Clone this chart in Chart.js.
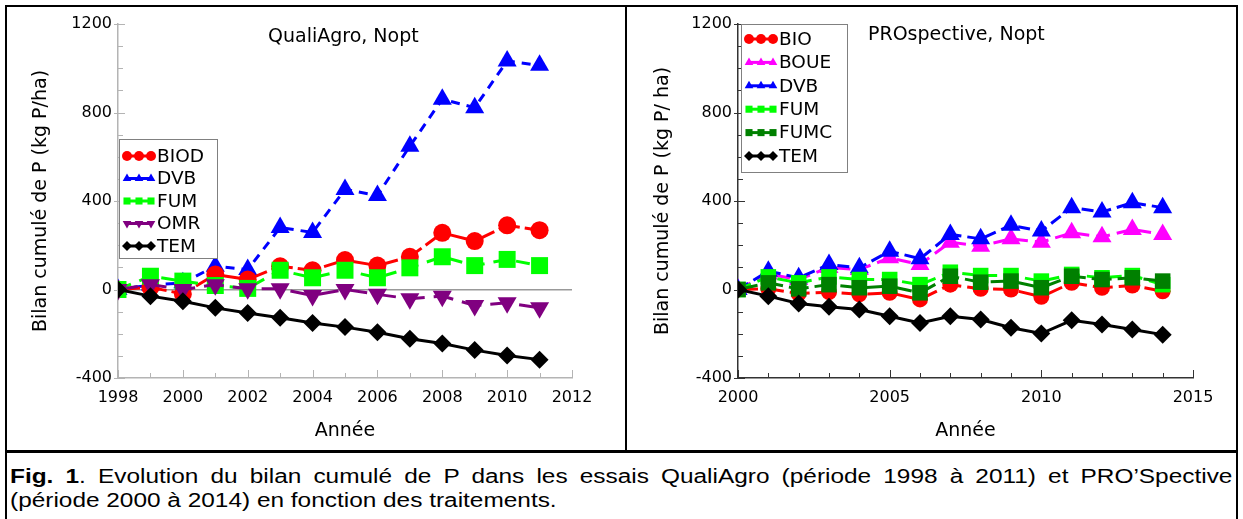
<!DOCTYPE html>
<html>
<head>
<meta charset="utf-8">
<script src="https://cdn.jsdelivr.net/npm/chart.js@4.4.0/dist/chart.umd.min.js"></script>
<style>
  body { margin: 0; width: 1243px; height: 519px; background: #fff; position: relative; overflow: hidden; }
  canvas { position: absolute; top: 0; }
  #qa { left: 0; }
  #pro { left: 627px; }
  .line { position: absolute; background: #000; z-index: 5; }
  .cap {
    position: absolute; left: 10px; width: 1002px;
    font-family: "Liberation Sans", Arial, sans-serif; font-size: 20px; line-height: 24px;
    color: #000; transform: scaleX(1.22); transform-origin: 0 0;
  }
  #cap1 { top: 464px; text-align: justify; text-align-last: justify; }
  #cap2 { top: 488px; text-align: left; }
</style>
</head>
<body>
<canvas id="qa" width="620" height="450"></canvas>
<canvas id="pro" width="610" height="450"></canvas>
<div class="line" style="left:5px;top:5px;width:1233px;height:2px"></div>
<div class="line" style="left:5px;top:5px;width:2px;height:514px"></div>
<div class="line" style="left:1236px;top:5px;width:2px;height:514px"></div>
<div class="line" style="left:625px;top:5px;width:2px;height:447px"></div>
<div class="line" style="left:5px;top:450px;width:1233px;height:3px"></div>
<div class="cap" id="cap1"><b>Fig. 1</b>. Evolution du bilan cumulé de P dans les essais QualiAgro (période 1998 à 2011) et PRO’Spective</div>
<div class="cap" id="cap2">(période 2000 à 2014) en fonction des traitements.</div>
<script>
// QualiAgro, 1998-2011
const yearsQA = [1998, 1999, 2000, 2001, 2002, 2003, 2004, 2005, 2006, 2007, 2008, 2009, 2010, 2011];
const biod  = [0, 10, -20, 68, 45, 105, 87, 133, 108, 148, 256, 219, 290, 268];
const dvbQA = [0, 20, 30, 105, 90, 280, 258, 452, 425, 648, 860, 822, 1033, 1013];
const fumQA = [0, 60, 38, 18, 5, 87, 53, 87, 53, 98, 148, 108, 136, 108];
const omr   = [0, 22, 0, 22, 3, 3, -27, 0, -22, -42, -30, -72, -60, -83];
const temQA = [0, -30, -53, -83, -106, -128, -151, -170, -193, -223, -244, -274, -298, -317];

// PRO'Spective, 2000-2014
const yearsPRO = [2000, 2001, 2002, 2003, 2004, 2005, 2006, 2007, 2008, 2009, 2010, 2011, 2012, 2013, 2014];
const bio    = [0, 3, -18, -12, -22, -15, -45, 22, 3, 0, -33, 30, 8, 18, -8];
const boue   = [0, 70, 45, 100, 90, 143, 113, 214, 196, 229, 214, 256, 238, 271, 249];
const dvbPRO = [0, 83, 53, 113, 98, 173, 139, 249, 229, 290, 264, 370, 350, 392, 370];
const fumPRO = [0, 57, 30, 57, 45, 45, 22, 78, 63, 63, 38, 68, 53, 63, 22];
const fumc   = [0, 30, 3, 22, 8, 15, -15, 60, 33, 38, 8, 60, 45, 53, 38];
const temPRO = [0, -30, -63, -78, -90, -121, -151, -121, -136, -173, -199, -139, -158, -181, -204];

const pts = (xs, ys) => xs.map((x, i) => ({ x: x, y: ys[i] }));

function series(label, xs, ys, color, style, radius, dash, order, rotation) {
  return {
    label: label,
    data: pts(xs, ys),
    borderColor: color,
    backgroundColor: color,
    borderWidth: 3,
    borderDash: dash,
    pointStyle: style,
    pointRadius: radius,
    pointRotation: rotation || 0,
    pointBorderWidth: 0,
    order: order,
    tension: 0
  };
}

// ticks drawn inside the plot, like the original software
const innerTicks = {
  id: 'innerTicks',
  beforeDatasetsDraw(chart, args, o) {
    const ctx = chart.ctx;
    const xs = chart.scales.x, ys = chart.scales.y;
    ctx.save();
    ctx.strokeStyle = o.color;
    ctx.lineWidth = 1;
    ctx.beginPath();
    ys.ticks.forEach(t => {
      const py = Math.round(ys.getPixelForValue(t.value)) + 0.5;
      const major = t.value % o.yMajor === 0;
      ctx.moveTo(ys.right - (major ? 4 : 0), py);
      ctx.lineTo(ys.right + (major ? 7 : 5), py);
    });
    xs.ticks.forEach(t => {
      const px = Math.round(xs.getPixelForValue(t.value)) + 0.5;
      const major = t.value % o.xMajor === 0;
      ctx.moveTo(px, xs.top);
      ctx.lineTo(px, xs.top - (major ? 8 : 5));
    });
    ctx.stroke();
    ctx.restore();
  }
};

const innerText = {
  id: 'innerText',
  afterDraw(chart, args, o) {
    const ctx = chart.ctx;
    ctx.save();
    ctx.font = '19px "DejaVu Sans"';
    ctx.fillStyle = '#000';
    ctx.textBaseline = 'middle';
    ctx.fillText(o.text, o.x, o.y);
    ctx.restore();
  }
};

const innerLegend = {
  id: 'innerLegend',
  afterDraw(chart, args, o) {
    const ctx = chart.ctx;
    ctx.save();
    ctx.fillStyle = '#fff';
    ctx.fillRect(o.x, o.y, o.w, o.h);
    ctx.strokeStyle = o.border;
    ctx.lineWidth = 1;
    ctx.strokeRect(o.x + 0.5, o.y + 0.5, o.w, o.h);
    chart.data.datasets.forEach((ds, i) => {
      const cy = o.y + o.first + i * o.row;
      const x0 = o.x + 8, x1 = x0 + 24;
      ctx.setLineDash([]);
      ctx.strokeStyle = ds.borderColor;
      ctx.fillStyle = ds.backgroundColor;
      ctx.lineWidth = 3;
      ctx.beginPath();
      ctx.moveTo(x0, cy);
      ctx.lineTo(x1, cy);
      ctx.stroke();
      [x0, (x0 + x1) / 2, x1].forEach(px => {
        Chart.helpers.drawPoint(ctx, { pointStyle: ds.pointStyle, radius: 5, rotation: ds.pointRotation, borderWidth: 0 }, px, cy);
      });
      ctx.fillStyle = '#000';
      ctx.font = '18.5px "DejaVu Sans"';
      ctx.textBaseline = 'middle';
      ctx.fillText(ds.label, x1 + 6, cy + 1);
    });
    ctx.restore();
  }
};

function makeOptions(cfg) {
  return {
    responsive: false,
    animation: false,
    layout: { padding: { left: 0, top: 24, right: cfg.padRight, bottom: 0 } },
    plugins: {
      legend: { display: false },
      tooltip: { enabled: false },
      innerTicks: { color: cfg.axisColor, xMajor: cfg.xMajor, yMajor: 400 },
      innerText: cfg.title,
      innerLegend: cfg.legend
    },
    scales: {
      x: {
        type: 'linear',
        min: cfg.xMin, max: cfg.xMax,
        afterFit: s => { s.height = 72; },
        border: { color: cfg.axisColor, width: 1.5 },
        grid: { display: false, drawTicks: false },
        ticks: {
          stepSize: 1, autoSkip: false, maxRotation: 0, padding: 10,
          color: '#000', font: { family: 'DejaVu Sans', size: 16 },
          callback: v => (v % cfg.xMajor === 0 ? String(v) : '')
        },
        title: { display: true, text: 'Année', color: '#000', font: { family: 'DejaVu Sans', size: 19 }, padding: { bottom: 8 } }
      },
      y: {
        min: -400, max: 1200,
        afterFit: s => { s.width = cfg.yWidth; },
        border: { color: cfg.axisColor, width: 1.5 },
        grid: {
          drawTicks: false,
          color: c => (cfg.zeroLine && c.tick && c.tick.value === 0 ? '#999' : 'rgba(0,0,0,0)'),
          lineWidth: 1.5
        },
        ticks: {
          stepSize: 100, autoSkip: false, padding: 6,
          color: '#000', font: { family: 'DejaVu Sans', size: 16 },
          callback: v => (v % 400 === 0 ? String(v) : '')
        },
        title: { display: true, text: cfg.yTitle, color: '#000', font: { family: 'DejaVu Sans', size: 19 }, padding: { top: cfg.yTitlePad } }
      }
    }
  };
}

new Chart(document.getElementById('qa'), {
  type: 'line',
  data: {
    datasets: [
      series('BIOD', yearsQA, biod, '#ff0000', 'circle', 9, [22, 5], 4),
      series('DVB', yearsQA, dvbQA, '#0000ff', 'triangle', 11, [9, 7], 5),
      series('FUM', yearsQA, fumQA, '#00ff00', 'rect', 12, [14, 9], 3),
      series('OMR', yearsQA, omr, '#800080', 'triangle', 11, [20, 9], 2, 180),
      series('TEM', yearsQA, temQA, '#000000', 'rectRot', 9, [], 1)
    ]
  },
  options: makeOptions({
    padRight: 48, yWidth: 118, xMin: 1998, xMax: 2012, xMajor: 2,
    axisColor: '#b4b4b4', zeroLine: true,
    yTitle: 'Bilan cumulé de P (kg P/ha)', yTitlePad: 30,
    title: { text: 'QualiAgro, Nopt', x: 268, y: 37 },
    legend: { x: 119, y: 139, w: 98, h: 119, first: 17, row: 22.5, border: '#808080' }
  }),
  plugins: [innerTicks, innerText, innerLegend]
});

new Chart(document.getElementById('pro'), {
  type: 'line',
  data: {
    datasets: [
      series('BIO', yearsPRO, bio, '#ff0000', 'circle', 8, [20, 6], 6),
      series('BOUE', yearsPRO, boue, '#ff00ff', 'triangle', 11, [14, 7], 5),
      series('DVB', yearsPRO, dvbPRO, '#0000ff', 'triangle', 11, [12, 6], 4),
      series('FUM', yearsPRO, fumPRO, '#00ff00', 'rect', 11, [14, 7], 3),
      series('FUMC', yearsPRO, fumc, '#008000', 'rect', 11, [20, 6], 2),
      series('TEM', yearsPRO, temPRO, '#000000', 'rectRot', 9, [], 1)
    ]
  },
  options: makeOptions({
    padRight: 44, yWidth: 111, xMin: 2000, xMax: 2015, xMajor: 5,
    axisColor: '#333333', zeroLine: false,
    yTitle: 'Bilan cumulé de P (kg P/ ha)', yTitlePad: 25,
    title: { text: 'PROspective, Nopt', x: 241, y: 35 },
    legend: { x: 114, y: 24, w: 106, h: 148, first: 15, row: 23.4, border: '#808080' }
  }),
  plugins: [innerTicks, innerText, innerLegend]
});
</script>
</body>
</html>
